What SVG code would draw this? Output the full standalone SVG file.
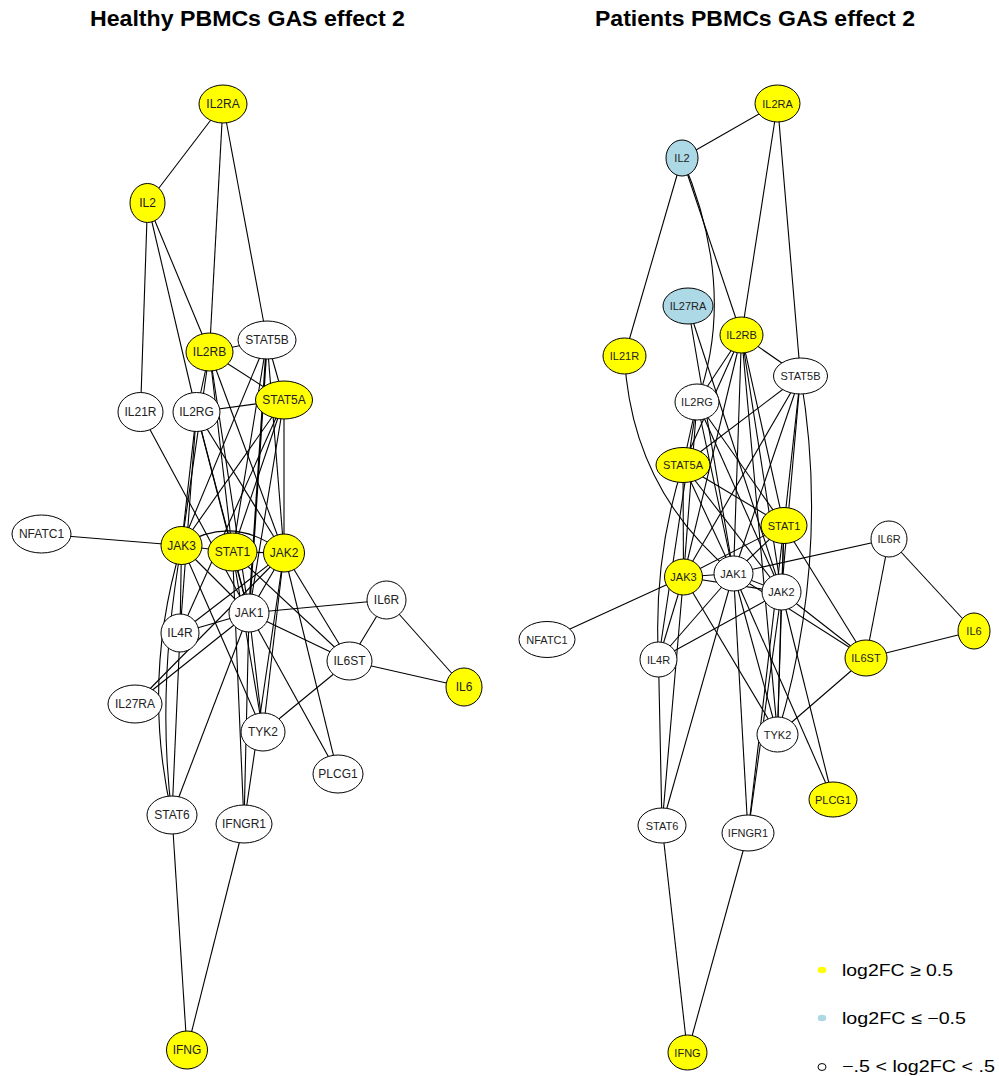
<svg xmlns="http://www.w3.org/2000/svg" width="999" height="1076" viewBox="0 0 999 1076">
<style>
  .e { stroke: #000; stroke-width: 1.1; fill: none; }
  .n ellipse { stroke: #000; stroke-width: 1; }
  .up { fill: #FFFF00; }
  .down { fill: #ADD8E6; }
  .mid { fill: #FFFFFF; }
  .lbl { font-family: "Liberation Sans", Arial, sans-serif; fill: #222; text-anchor: middle; dominant-baseline: central; }
  .L .lbl { font-size: 12px; }
  .R .lbl { font-size: 11px; }
  .title { font-family: "Liberation Sans", Arial, sans-serif; font-weight: bold; font-size: 22.5px; fill: #000; text-anchor: middle; }
  .leg { font-family: "Liberation Sans", Arial, sans-serif; font-size: 16.5px; fill: #000; }
</style>
<rect width="999" height="1076" fill="#fff"/>

<text class="title" x="247.5" y="26" textLength="315" lengthAdjust="spacingAndGlyphs">Healthy PBMCs GAS effect 2</text>
<text class="title" x="755" y="26" textLength="320" lengthAdjust="spacingAndGlyphs">Patients PBMCs GAS effect 2</text>

<!-- healthy network: connectors -->
<g id="edges-healthy" class="e">
  <line x1="223" y1="104" x2="147.5" y2="203"/>
  <line x1="223" y1="104" x2="209.5" y2="352"/>
  <line x1="223" y1="104" x2="267" y2="340"/>
  <line x1="147.5" y1="203" x2="140.5" y2="412"/>
  <line x1="147.5" y1="203" x2="209.5" y2="352"/>
  <line x1="147.5" y1="203" x2="196.5" y2="412"/>
  <line x1="209.5" y1="352" x2="267" y2="340"/>
  <line x1="209.5" y1="352" x2="284" y2="400"/>
  <line x1="209.5" y1="352" x2="196.5" y2="412"/>
  <line x1="209.5" y1="352" x2="249" y2="613"/>
  <line x1="209.5" y1="352" x2="181.5" y2="545.5"/>
  <line x1="209.5" y1="352" x2="232.5" y2="552"/>
  <line x1="209.5" y1="352" x2="284" y2="553"/>
  <line x1="267" y1="340" x2="284" y2="400"/>
  <line x1="267" y1="340" x2="181.5" y2="545.5"/>
  <line x1="267" y1="340" x2="249" y2="613" stroke-width="2"/>
  <line x1="267" y1="340" x2="284" y2="553"/>
  <line x1="267" y1="340" x2="232.5" y2="552"/>
  <line x1="284" y1="400" x2="196.5" y2="412"/>
  <line x1="284" y1="400" x2="181.5" y2="545.5"/>
  <line x1="284" y1="400" x2="249" y2="613"/>
  <line x1="284" y1="400" x2="284" y2="553"/>
  <line x1="284" y1="400" x2="232.5" y2="552"/>
  <line x1="284" y1="400" x2="180" y2="633"/>
  <line x1="196.5" y1="412" x2="181.5" y2="545.5"/>
  <line x1="196.5" y1="412" x2="249" y2="613"/>
  <line x1="196.5" y1="412" x2="232.5" y2="552"/>
  <line x1="196.5" y1="412" x2="284" y2="553"/>
  <line x1="196.5" y1="412" x2="180" y2="633"/>
  <line x1="140.5" y1="412" x2="249" y2="613"/>
  <line x1="41.5" y1="534" x2="181.5" y2="545.5"/>
  <line x1="181.5" y1="545.5" x2="232.5" y2="552"/>
  <line x1="181.5" y1="545.5" x2="249" y2="613"/>
  <path d="M181.5,545.5 Q233,513 284,553"/>
  <line x1="181.5" y1="545.5" x2="180" y2="633"/>
  <path d="M181.5,545.5 Q141,680 172,815"/>
  <path d="M181.5,545.5 Q156,690 172,815"/>
  <line x1="181.5" y1="545.5" x2="263" y2="732"/>
  <line x1="232.5" y1="552" x2="249" y2="613"/>
  <line x1="232.5" y1="552" x2="284" y2="553"/>
  <line x1="232.5" y1="552" x2="244" y2="824"/>
  <line x1="232.5" y1="552" x2="349.5" y2="661"/>
  <line x1="232.5" y1="552" x2="263" y2="732"/>
  <line x1="284" y1="553" x2="249" y2="613"/>
  <line x1="284" y1="553" x2="244" y2="824"/>
  <line x1="284" y1="553" x2="349.5" y2="661"/>
  <line x1="284" y1="553" x2="338" y2="774"/>
  <line x1="284" y1="553" x2="180" y2="633"/>
  <line x1="284" y1="553" x2="135" y2="704"/>
  <line x1="284" y1="553" x2="263" y2="732"/>
  <line x1="249" y1="613" x2="386.5" y2="600"/>
  <line x1="249" y1="613" x2="349.5" y2="661"/>
  <line x1="249" y1="613" x2="180" y2="633"/>
  <line x1="249" y1="613" x2="135" y2="704"/>
  <line x1="249" y1="613" x2="263" y2="732"/>
  <line x1="249" y1="613" x2="338" y2="774"/>
  <line x1="249" y1="613" x2="244" y2="824"/>
  <line x1="249" y1="613" x2="172" y2="815"/>
  <line x1="386.5" y1="600" x2="349.5" y2="661"/>
  <line x1="386.5" y1="600" x2="464" y2="687"/>
  <line x1="349.5" y1="661" x2="464" y2="687"/>
  <line x1="349.5" y1="661" x2="263" y2="732"/>
  <line x1="180" y1="633" x2="172" y2="815"/>
  <line x1="172" y1="815" x2="187" y2="1050"/>
  <line x1="244" y1="824" x2="187" y2="1050"/>
</g>

<!-- healthy network: nodes -->
<g class="L">
  <g id="h-IL2RA" class="n"><ellipse class="up" cx="223" cy="104" rx="24" ry="19"/><text class="lbl" x="223" y="104">IL2RA</text></g>
  <g id="h-IL2" class="n"><ellipse class="up" cx="147.5" cy="203" rx="17.5" ry="19.5"/><text class="lbl" x="147.5" y="203">IL2</text></g>
  <g id="h-IL2RB" class="n"><ellipse class="up" cx="209.5" cy="352" rx="23.5" ry="19"/><text class="lbl" x="209.5" y="352">IL2RB</text></g>
  <g id="h-STAT5B" class="n"><ellipse class="mid" cx="267" cy="340" rx="29" ry="19"/><text class="lbl" x="267" y="340">STAT5B</text></g>
  <g id="h-STAT5A" class="n"><ellipse class="up" cx="284" cy="400" rx="28.5" ry="19"/><text class="lbl" x="284" y="400">STAT5A</text></g>
  <g id="h-IL21R" class="n"><ellipse class="mid" cx="140.5" cy="412" rx="22.5" ry="19.5"/><text class="lbl" x="140.5" y="412">IL21R</text></g>
  <g id="h-IL2RG" class="n"><ellipse class="mid" cx="196.5" cy="412" rx="23.5" ry="19.5"/><text class="lbl" x="196.5" y="412">IL2RG</text></g>
  <g id="h-NFATC1" class="n"><ellipse class="mid" cx="41.5" cy="534" rx="29.5" ry="19"/><text class="lbl" x="41.5" y="534">NFATC1</text></g>
  <g id="h-JAK3" class="n"><ellipse class="up" cx="181.5" cy="545.5" rx="20.5" ry="19"/><text class="lbl" x="181.5" y="545.5">JAK3</text></g>
  <g id="h-STAT1" class="n"><ellipse class="up" cx="232.5" cy="552" rx="24.5" ry="19"/><text class="lbl" x="232.5" y="552">STAT1</text></g>
  <g id="h-JAK2" class="n"><ellipse class="up" cx="284" cy="553" rx="20.5" ry="19"/><text class="lbl" x="284" y="553">JAK2</text></g>
  <g id="h-JAK1" class="n"><ellipse class="mid" cx="249" cy="613" rx="20" ry="19"/><text class="lbl" x="249" y="613">JAK1</text></g>
  <g id="h-IL6R" class="n"><ellipse class="mid" cx="386.5" cy="600" rx="19.5" ry="19"/><text class="lbl" x="386.5" y="600">IL6R</text></g>
  <g id="h-IL4R" class="n"><ellipse class="mid" cx="180" cy="633" rx="19" ry="19"/><text class="lbl" x="180" y="633">IL4R</text></g>
  <g id="h-IL6ST" class="n"><ellipse class="mid" cx="349.5" cy="661" rx="22.5" ry="19"/><text class="lbl" x="349.5" y="661">IL6ST</text></g>
  <g id="h-IL6" class="n"><ellipse class="up" cx="464" cy="687" rx="18" ry="19"/><text class="lbl" x="464" y="687">IL6</text></g>
  <g id="h-IL27RA" class="n"><ellipse class="mid" cx="135" cy="704" rx="27" ry="19"/><text class="lbl" x="135" y="704">IL27RA</text></g>
  <g id="h-TYK2" class="n"><ellipse class="mid" cx="263" cy="732" rx="22" ry="19"/><text class="lbl" x="263" y="732">TYK2</text></g>
  <g id="h-PLCG1" class="n"><ellipse class="mid" cx="338" cy="774" rx="25" ry="19"/><text class="lbl" x="338" y="774">PLCG1</text></g>
  <g id="h-STAT6" class="n"><ellipse class="mid" cx="172" cy="815" rx="25" ry="19"/><text class="lbl" x="172" y="815">STAT6</text></g>
  <g id="h-IFNGR1" class="n"><ellipse class="mid" cx="244" cy="824" rx="28" ry="19"/><text class="lbl" x="244" y="824">IFNGR1</text></g>
  <g id="h-IFNG" class="n"><ellipse class="up" cx="187" cy="1050" rx="20.5" ry="19"/><text class="lbl" x="187" y="1050">IFNG</text></g>
</g>

<!-- patient network: connectors -->
<g id="edges-patients" class="e">
  <line x1="777.5" y1="103.5" x2="682" y2="158"/>
  <line x1="777.5" y1="103.5" x2="741.5" y2="335"/>
  <line x1="777.5" y1="103.5" x2="800.5" y2="376"/>
  <line x1="682" y1="158" x2="624.5" y2="356"/>
  <line x1="682" y1="158" x2="741.5" y2="335"/>
  <path d="M682,158 Q738,290 697,402"/>
  <line x1="741.5" y1="335" x2="800.5" y2="376"/>
  <line x1="741.5" y1="335" x2="683" y2="465"/>
  <line x1="741.5" y1="335" x2="697" y2="402"/>
  <line x1="741.5" y1="335" x2="733.5" y2="573.5"/>
  <line x1="741.5" y1="335" x2="683.5" y2="577"/>
  <line x1="741.5" y1="335" x2="784" y2="525.5"/>
  <line x1="741.5" y1="335" x2="781.5" y2="592"/>
  <line x1="741.5" y1="335" x2="777.5" y2="734.5"/>
  <line x1="800.5" y1="376" x2="683" y2="465"/>
  <line x1="800.5" y1="376" x2="683.5" y2="577"/>
  <line x1="800.5" y1="376" x2="733.5" y2="573.5"/>
  <line x1="800.5" y1="376" x2="781.5" y2="592"/>
  <line x1="800.5" y1="376" x2="784" y2="525.5"/>
  <path d="M800.5,376 Q831,555 777.5,734.5"/>
  <line x1="683" y1="465" x2="697" y2="402"/>
  <line x1="683" y1="465" x2="683.5" y2="577"/>
  <line x1="683" y1="465" x2="733.5" y2="573.5"/>
  <line x1="683" y1="465" x2="781.5" y2="592"/>
  <line x1="683" y1="465" x2="784" y2="525.5"/>
  <path d="M683,465 Q653,558 658.5,659.5"/>
  <line x1="697" y1="402" x2="683.5" y2="577"/>
  <line x1="697" y1="402" x2="733.5" y2="573.5"/>
  <line x1="697" y1="402" x2="784" y2="525.5"/>
  <line x1="697" y1="402" x2="781.5" y2="592"/>
  <line x1="697" y1="402" x2="658.5" y2="659.5"/>
  <path d="M624.5,356 Q631,489 733.5,573.5"/>
  <line x1="547" y1="639.5" x2="683.5" y2="577"/>
  <line x1="683.5" y1="577" x2="784" y2="525.5"/>
  <line x1="683.5" y1="577" x2="733.5" y2="573.5"/>
  <line x1="683.5" y1="577" x2="781.5" y2="592"/>
  <line x1="683.5" y1="577" x2="658.5" y2="659.5"/>
  <line x1="683.5" y1="577" x2="662" y2="825.5"/>
  <line x1="683.5" y1="577" x2="777.5" y2="734.5"/>
  <line x1="784" y1="525.5" x2="733.5" y2="573.5"/>
  <line x1="784" y1="525.5" x2="781.5" y2="592"/>
  <line x1="784" y1="525.5" x2="748" y2="833"/>
  <line x1="784" y1="525.5" x2="866" y2="658"/>
  <line x1="784" y1="525.5" x2="777.5" y2="734.5"/>
  <line x1="781.5" y1="592" x2="733.5" y2="573.5"/>
  <line x1="781.5" y1="592" x2="748" y2="833"/>
  <line x1="781.5" y1="592" x2="866" y2="658"/>
  <line x1="781.5" y1="592" x2="833" y2="799.5"/>
  <line x1="781.5" y1="592" x2="658.5" y2="659.5"/>
  <line x1="781.5" y1="592" x2="688" y2="306"/>
  <line x1="781.5" y1="592" x2="777.5" y2="734.5"/>
  <line x1="733.5" y1="573.5" x2="889" y2="539"/>
  <line x1="733.5" y1="573.5" x2="866" y2="658"/>
  <line x1="733.5" y1="573.5" x2="658.5" y2="659.5"/>
  <line x1="733.5" y1="573.5" x2="688" y2="306"/>
  <line x1="733.5" y1="573.5" x2="777.5" y2="734.5"/>
  <line x1="733.5" y1="573.5" x2="833" y2="799.5"/>
  <line x1="733.5" y1="573.5" x2="748" y2="833"/>
  <line x1="733.5" y1="573.5" x2="662" y2="825.5"/>
  <line x1="889" y1="539" x2="866" y2="658"/>
  <line x1="889" y1="539" x2="974" y2="631"/>
  <line x1="866" y1="658" x2="974" y2="631"/>
  <line x1="866" y1="658" x2="777.5" y2="734.5"/>
  <line x1="658.5" y1="659.5" x2="662" y2="825.5"/>
  <line x1="662" y1="825.5" x2="687.5" y2="1052.5"/>
  <line x1="748" y1="833" x2="687.5" y2="1052.5"/>
</g>

<!-- patient network: nodes -->
<g class="R">
  <g id="p-IL2RA" class="n"><ellipse class="up" cx="777.5" cy="103.5" rx="22.5" ry="18.5"/><text class="lbl" x="777.5" y="103.5">IL2RA</text></g>
  <g id="p-IL2" class="n"><ellipse class="down" cx="682" cy="158" rx="16" ry="18"/><text class="lbl" x="682" y="158">IL2</text></g>
  <g id="p-IL27RA" class="n"><ellipse class="down" cx="688" cy="306" rx="25" ry="18"/><text class="lbl" x="688" y="306">IL27RA</text></g>
  <g id="p-IL2RB" class="n"><ellipse class="up" cx="741.5" cy="335" rx="21.5" ry="18"/><text class="lbl" x="741.5" y="335">IL2RB</text></g>
  <g id="p-IL21R" class="n"><ellipse class="up" cx="624.5" cy="356" rx="21.5" ry="18"/><text class="lbl" x="624.5" y="356">IL21R</text></g>
  <g id="p-STAT5B" class="n"><ellipse class="mid" cx="800.5" cy="376" rx="27" ry="18"/><text class="lbl" x="800.5" y="376">STAT5B</text></g>
  <g id="p-IL2RG" class="n"><ellipse class="mid" cx="697" cy="402" rx="22" ry="18"/><text class="lbl" x="697" y="402">IL2RG</text></g>
  <g id="p-STAT5A" class="n"><ellipse class="up" cx="683" cy="465" rx="27" ry="17.5"/><text class="lbl" x="683" y="465">STAT5A</text></g>
  <g id="p-STAT1" class="n"><ellipse class="up" cx="784" cy="525.5" rx="23" ry="18"/><text class="lbl" x="784" y="525.5">STAT1</text></g>
  <g id="p-IL6R" class="n"><ellipse class="mid" cx="889" cy="539" rx="18" ry="18"/><text class="lbl" x="889" y="539">IL6R</text></g>
  <g id="p-JAK3" class="n"><ellipse class="up" cx="683.5" cy="577" rx="19" ry="18"/><text class="lbl" x="683.5" y="577">JAK3</text></g>
  <g id="p-JAK1" class="n"><ellipse class="mid" cx="733.5" cy="573.5" rx="19.5" ry="17.5"/><text class="lbl" x="733.5" y="573.5">JAK1</text></g>
  <g id="p-JAK2" class="n"><ellipse class="mid" cx="781.5" cy="592" rx="19.5" ry="18"/><text class="lbl" x="781.5" y="592">JAK2</text></g>
  <g id="p-IL6" class="n"><ellipse class="up" cx="974" cy="631" rx="16" ry="18"/><text class="lbl" x="974" y="631">IL6</text></g>
  <g id="p-NFATC1" class="n"><ellipse class="mid" cx="547" cy="639.5" rx="28" ry="18"/><text class="lbl" x="547" y="639.5">NFATC1</text></g>
  <g id="p-IL4R" class="n"><ellipse class="mid" cx="658.5" cy="659.5" rx="18.5" ry="17.5"/><text class="lbl" x="658.5" y="659.5">IL4R</text></g>
  <g id="p-IL6ST" class="n"><ellipse class="up" cx="866" cy="658" rx="21" ry="18"/><text class="lbl" x="866" y="658">IL6ST</text></g>
  <g id="p-TYK2" class="n"><ellipse class="mid" cx="777.5" cy="734.5" rx="20.5" ry="17.5"/><text class="lbl" x="777.5" y="734.5">TYK2</text></g>
  <g id="p-PLCG1" class="n"><ellipse class="up" cx="833" cy="799.5" rx="24" ry="17.5"/><text class="lbl" x="833" y="799.5">PLCG1</text></g>
  <g id="p-STAT6" class="n"><ellipse class="mid" cx="662" cy="825.5" rx="24" ry="17.5"/><text class="lbl" x="662" y="825.5">STAT6</text></g>
  <g id="p-IFNGR1" class="n"><ellipse class="mid" cx="748" cy="833" rx="26" ry="18"/><text class="lbl" x="748" y="833">IFNGR1</text></g>
  <g id="p-IFNG" class="n"><ellipse class="up" cx="687.5" cy="1052.5" rx="19.5" ry="17.5"/><text class="lbl" x="687.5" y="1052.5">IFNG</text></g>
</g>

<!-- colour key -->
<g id="legend">
  <ellipse cx="822" cy="970" rx="4.3" ry="3.2" fill="#FFFF00"/>
  <text class="leg" x="842" y="976" textLength="111" lengthAdjust="spacingAndGlyphs">log2FC ≥ 0.5</text>
  <ellipse cx="822" cy="1018" rx="4.3" ry="3.2" fill="#ADD8E6"/>
  <text class="leg" x="842" y="1024" textLength="124" lengthAdjust="spacingAndGlyphs">log2FC ≤ −0.5</text>
  <ellipse cx="822" cy="1067" rx="4" ry="3.5" fill="#fff" stroke="#000" stroke-width="1"/>
  <text class="leg" x="842" y="1072" textLength="153" lengthAdjust="spacingAndGlyphs">−.5 &lt; log2FC &lt; .5</text>
</g>
</svg>
